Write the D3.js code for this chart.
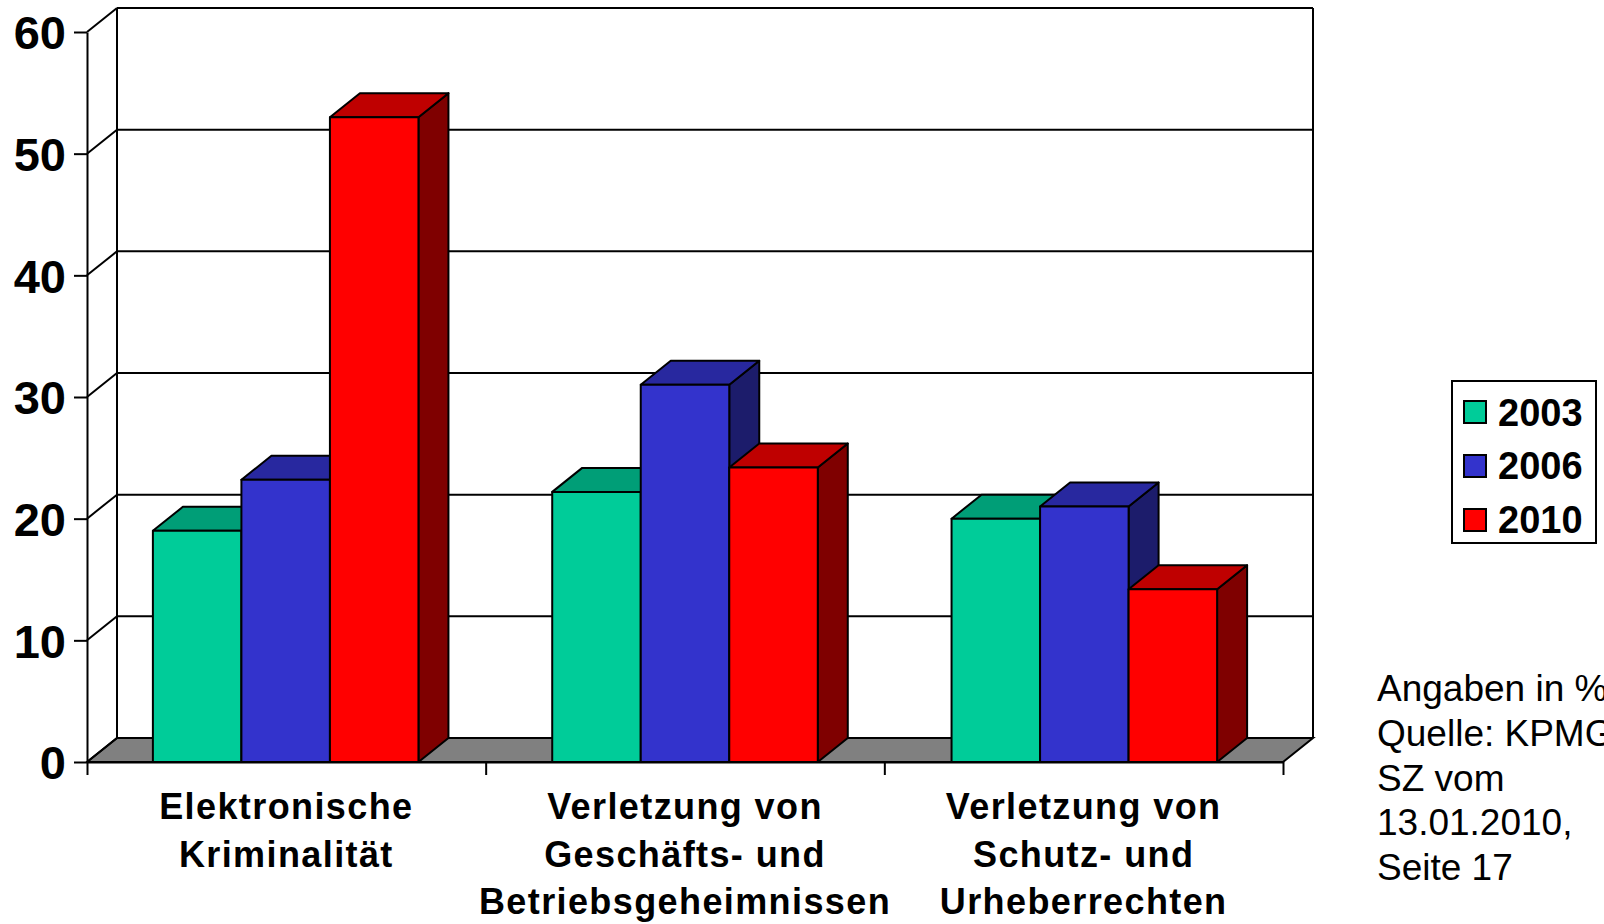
<!DOCTYPE html>
<html>
<head>
<meta charset="utf-8">
<script src="https://cdn.jsdelivr.net/npm/d3@7"></script>
<style>
html, body { margin: 0; padding: 0; background: #fff; overflow: hidden; }
text { font-family: "Liberation Sans", Arial, sans-serif; fill: #000; }
</style>
</head>
<body>
<script>
var categories = [
    ['Elektronische', 'Kriminalität'],
    ['Verletzung von', 'Geschäfts- und', 'Betriebsgeheimnissen'],
    ['Verletzung von', 'Schutz- und', 'Urheberrechten']
];
var years = ['2003', '2006', '2010'];
var values2003 = [19, 22.2, 20];
var values2006 = [23.2, 31, 21];
var values2010 = [53, 24.2, 14.2];
var yTicks = [0, 10, 20, 30, 40, 50, 60];
var noteLines = ['Angaben in %', 'Quelle: KPMG', 'SZ vom', '13.01.2010,', 'Seite 17'];

var seriesValues = [values2003, values2006, values2010];
var frontColors = ['#00cc99', '#3333cc', '#ff0000'];
var topColors = ['#009e77', '#28289f', '#bf0000'];
var sideColors = ['#007a5c', '#1c1c6b', '#7f0000'];

function main(){
    var left = 87, right = 1283, bottom = 762, top = 32;
    var dx = 30, dy = 24;

    var svg = d3.select('body')
        .append('svg')
        .attr('width', 1604)
        .attr('height', 924);

    var y = d3.scaleLinear().domain([0, 60]).range([bottom, top]);
    var xEdge = d3.scaleLinear().domain([0, 3]).range([left, right]);
    var xGroup = d3.scaleBand().domain(d3.range(3)).range([left, right]).paddingInner(0.335).paddingOuter(0.165);
    var xBar = d3.scaleBand().domain(d3.range(3)).range([0, xGroup.bandwidth()]);

    // floor
    svg.append('polygon')
        .attr('points', [[left, bottom], [left + dx, bottom - dy], [right + dx, bottom - dy], [right, bottom]].join(' '))
        .attr('fill', '#808080')
        .attr('stroke', '#000')
        .attr('stroke-width', 2);

    // back wall and grid lines
    svg.selectAll('.grid')
        .data(yTicks)
        .enter().append('line')
        .attr('x1', left + dx)
        .attr('x2', right + dx)
        .attr('y1', function(d){ return y(d) - dy; })
        .attr('y2', function(d){ return y(d) - dy; })
        .attr('stroke', '#000')
        .attr('stroke-width', 2);

    svg.selectAll('.wall')
        .data(yTicks)
        .enter().append('line')
        .attr('x1', left)
        .attr('x2', left + dx)
        .attr('y1', function(d){ return y(d); })
        .attr('y2', function(d){ return y(d) - dy; })
        .attr('stroke', '#000')
        .attr('stroke-width', 2);

    [left + dx, right + dx].forEach(function(xp){
        svg.append('line')
            .attr('x1', xp).attr('x2', xp)
            .attr('y1', y(60) - dy).attr('y2', y(0) - dy)
            .attr('stroke', '#000')
            .attr('stroke-width', 2);
    });

    // axes
    var yAxis = svg.append('g')
        .attr('transform', 'translate(' + left + ',0)')
        .call(d3.axisLeft(y).tickValues(yTicks).tickSize(13).tickSizeOuter(0));
    yAxis.selectAll('text')
        .attr('x', -21)
        .attr('dy', '0.36em')
        .attr('font-size', 47)
        .attr('font-weight', 'bold')
        .style('font-family', '"Liberation Sans", Arial, sans-serif');

    var xAxis = svg.append('g')
        .attr('transform', 'translate(0,' + bottom + ')')
        .call(d3.axisBottom(xEdge).tickValues([0, 1, 2, 3]).tickSize(13).tickSizeOuter(0).tickFormat(''));

    svg.selectAll('.domain, .tick line')
        .attr('stroke', '#000')
        .attr('stroke-width', 2);

    // bars, left to right so the next front covers the previous side
    categories.forEach(function(cat, c){
        seriesValues.forEach(function(vals, s){
            var x0 = xGroup(c) + xBar(s);
            var x1 = x0 + xBar.bandwidth();
            var yt = y(vals[c]);
            var g = svg.append('g')
                .attr('stroke', '#000')
                .attr('stroke-width', 2)
                .attr('stroke-linejoin', 'round');
            g.append('polygon')
                .attr('points', [[x1, yt], [x1 + dx, yt - dy], [x1 + dx, bottom - dy], [x1, bottom]].join(' '))
                .attr('fill', sideColors[s]);
            g.append('polygon')
                .attr('points', [[x0, yt], [x0 + dx, yt - dy], [x1 + dx, yt - dy], [x1, yt]].join(' '))
                .attr('fill', topColors[s]);
            g.append('rect')
                .attr('x', x0)
                .attr('y', yt)
                .attr('width', x1 - x0)
                .attr('height', bottom - yt)
                .attr('fill', frontColors[s]);
        });
    });

    // category labels
    categories.forEach(function(lines, c){
        lines.forEach(function(line, i){
            svg.append('text')
                .attr('x', (xEdge(c) + xEdge(c + 1)) / 2)
                .attr('y', 819 + i * 47.5)
                .attr('text-anchor', 'middle')
                .attr('font-size', 36)
                .attr('font-weight', 'bold')
                .attr('letter-spacing', 1.4)
                .text(line);
        });
    });

    // legend
    svg.append('rect')
        .attr('x', 1452).attr('y', 381)
        .attr('width', 144).attr('height', 162)
        .attr('fill', '#fff')
        .attr('stroke', '#000')
        .attr('stroke-width', 2);
    years.forEach(function(year, i){
        svg.append('rect')
            .attr('x', 1464).attr('y', 401 + i * 54)
            .attr('width', 22).attr('height', 22)
            .attr('fill', frontColors[i])
            .attr('stroke', '#000')
            .attr('stroke-width', 2);
        svg.append('text')
            .attr('x', 1498).attr('y', 426 + i * 53.4)
            .attr('font-size', 38)
            .attr('font-weight', 'bold')
            .text(year);
    });

    // source note
    noteLines.forEach(function(line, i){
        svg.append('text')
            .attr('x', 1377)
            .attr('y', 701 + i * 44.75)
            .attr('font-size', 37)
            .text(line);
    });
}
main();
</script>
</body>
</html>
